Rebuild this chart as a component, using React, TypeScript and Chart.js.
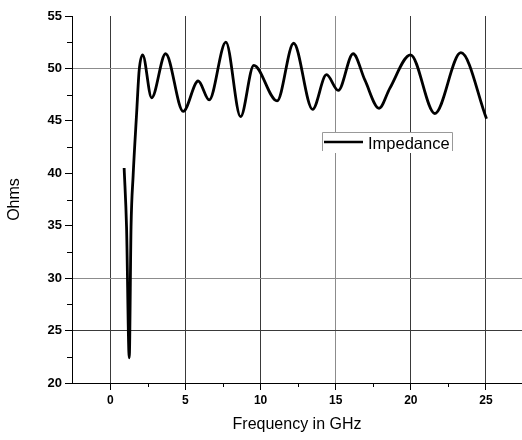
import { useEffect, useRef } from 'react';
import { Chart, registerables } from 'chart.js';

Chart.register(...registerables);

const freqGHz = [0.92, 1.08, 1.26, 1.38, 1.52, 1.75, 1.92, 2.15, 2.75, 3.68, 4.85, 5.85, 6.58, 7.69, 8.67, 9.55, 11.1, 12.2, 13.46, 14.39, 15.17, 16.16, 16.94, 17.89, 18.6, 19.98, 21.6, 23.33, 25.04];
const impedanceOhms = [40.5, 34.9, 22.4, 34.9, 39.8, 45.7, 49.8, 51.3, 47.2, 51.4, 45.9, 48.8, 47.0, 52.5, 45.4, 50.3, 46.9, 52.4, 46.1, 49.4, 47.9, 51.4, 48.9, 46.2, 48.1, 51.3, 45.7, 51.5, 45.2];
const seriesLabel = 'Impedance';
const xTicks = [0, 2.5, 5, 7.5, 10, 12.5, 15, 17.5, 20, 22.5, 25];
const yTicks = [20, 22.5, 25, 27.5, 30, 32.5, 35, 37.5, 40, 42.5, 45, 47.5, 50, 52.5, 55];
const xGridDark = [0, 5, 10, 20, 25];
const xGridLight = [15];
const yGridDark = [25];
const yGridLight = [30, 50];

const FONT = '"Liberation Sans", Arial, sans-serif';

const minorTicksPlugin = {
  id: 'minorTicks',
  afterDraw(chart: any) {
    const { ctx, scales, chartArea } = chart;
    const x = scales.x;
    const y = scales.y;
    ctx.save();
    ctx.strokeStyle = '#000';
    ctx.lineWidth = 1;
    ctx.beginPath();
    for (const v of xTicks) {
      if (v % 5 !== 0) {
        const px = Math.round(x.getPixelForValue(v)) + 0.5;
        ctx.moveTo(px, chartArea.bottom);
        ctx.lineTo(px, chartArea.bottom + 4);
      }
    }
    for (const v of yTicks) {
      if (v % 5 !== 0) {
        const py = Math.round(y.getPixelForValue(v)) + 0.5;
        ctx.moveTo(chartArea.left, py);
        ctx.lineTo(chartArea.left - 5, py);
      }
    }
    ctx.stroke();
    ctx.restore();
  },
};

const legendBoxPlugin = {
  id: 'legendBox',
  afterDraw(chart: any) {
    const { ctx } = chart;
    const label = chart.data.datasets[0].label;
    const left = 322;
    const top = 132;
    const w = 131;
    const h = 21;
    ctx.save();
    ctx.fillStyle = '#fff';
    ctx.fillRect(left, top, w, h);
    ctx.strokeStyle = '#999';
    ctx.lineWidth = 1;
    ctx.beginPath();
    ctx.moveTo(left + 0.5, top + 19);
    ctx.lineTo(left + 0.5, top + 0.5);
    ctx.lineTo(left + w - 0.5, top + 0.5);
    ctx.lineTo(left + w - 0.5, top + 19);
    ctx.stroke();
    ctx.strokeStyle = '#000';
    ctx.lineWidth = 2.5;
    ctx.beginPath();
    ctx.moveTo(324, 142);
    ctx.lineTo(363, 142);
    ctx.stroke();
    ctx.fillStyle = '#000';
    ctx.font = `16.5px ${FONT}`;
    ctx.textBaseline = 'alphabetic';
    ctx.textAlign = 'left';
    ctx.fillText(label, 368, 148.5);
    ctx.restore();
  },
};

function gridColorFor(v: number, dark: number[], light: number[]) {
  if (dark.includes(v)) return '#3a3a3a';
  if (light.includes(v)) return '#8c8c8c';
  return 'transparent';
}

export default function App() {
  const canvasRef = useRef<HTMLCanvasElement | null>(null);

  useEffect(() => {
    const canvas = canvasRef.current;
    if (!canvas) return;
    const points = freqGHz.map((f, i) => ({ x: f, y: impedanceOhms[i] }));
    const chart = new Chart(canvas, {
      type: 'line',
      data: {
        datasets: [
          {
            label: seriesLabel,
            data: points,
            borderColor: '#000',
            borderWidth: 2.8,
            pointRadius: 0,
            fill: false,
            cubicInterpolationMode: 'monotone',
          },
        ],
      },
      plugins: [minorTicksPlugin, legendBoxPlugin],
      options: {
        responsive: false,
        animation: false,
        layout: { padding: { top: 16, left: 0, right: 0, bottom: 0 } },
        plugins: {
          legend: { display: false },
          tooltip: { enabled: false },
        },
        scales: {
          x: {
            type: 'linear',
            min: -2.55,
            max: 27.4,
            afterBuildTicks: (scale: any) => {
              scale.ticks = xTicks.map((v) => ({ value: v }));
            },
            afterFit: (scale: any) => {
              scale.height = 57;
            },
            ticks: {
              autoSkip: false,
              maxRotation: 0,
              padding: 3,
              color: '#000',
              font: { family: FONT, size: 12, weight: 'bold' },
              callback: (v: any) => (Number(v) % 5 === 0 ? String(v) : ''),
            },
            grid: {
              color: (c: any) => gridColorFor(c.tick?.value, xGridDark, xGridLight),
              tickColor: (c: any) => (c.tick && c.tick.value % 5 === 0 ? '#000' : 'transparent'),
              tickLength: 7,
              lineWidth: 1,
            },
            border: { color: '#000', width: 1 },
            title: {
              display: true,
              text: 'Frequency in GHz',
              color: '#000',
              font: { family: FONT, size: 16 },
              padding: { top: 0, bottom: 6 },
            },
          },
          y: {
            type: 'linear',
            min: 20,
            max: 55,
            afterBuildTicks: (scale: any) => {
              scale.ticks = yTicks.map((v) => ({ value: v }));
            },
            afterFit: (scale: any) => {
              scale.width = 72;
            },
            ticks: {
              autoSkip: false,
              padding: 3,
              color: '#000',
              font: { family: FONT, size: 13, weight: 'bold' },
              callback: (v: any) => (Number(v) % 5 === 0 ? String(v) : ''),
            },
            grid: {
              color: (c: any) => gridColorFor(c.tick?.value, yGridDark, yGridLight),
              tickColor: (c: any) => (c.tick && c.tick.value % 5 === 0 ? '#000' : 'transparent'),
              tickLength: 7,
              lineWidth: 1,
            },
            border: { color: '#000', width: 1 },
            title: {
              display: true,
              text: 'Ohms',
              color: '#000',
              font: { family: FONT, size: 16 },
              padding: { top: 5, bottom: 0 },
            },
          },
        },
      } as any,
    });
    return () => chart.destroy();
  }, []);

  return (
    <div style={{ position: 'absolute', left: 0, top: 0, width: 522, height: 440, background: '#fff' }}>
      <canvas ref={canvasRef} width={522} height={440} style={{ display: 'block' }} />
    </div>
  );
}
